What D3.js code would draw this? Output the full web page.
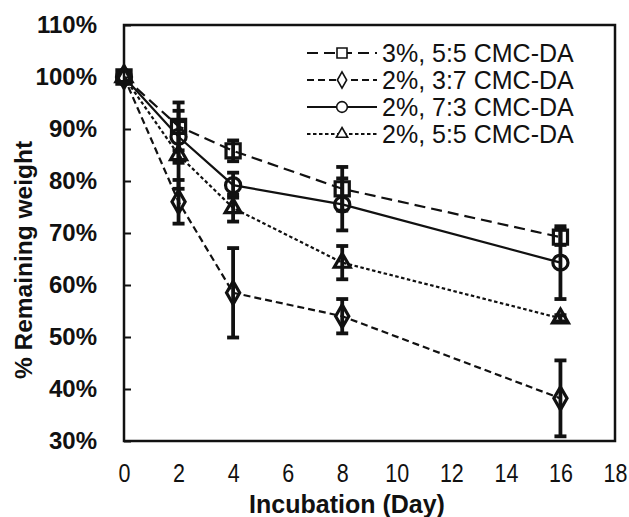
<!DOCTYPE html>
<html>
<head>
<meta charset="utf-8">
<script src="https://cdn.jsdelivr.net/npm/d3@7"></script>
<style>
  body { margin: 0; background: #fff; }
  text { font-family: Arial, "Liberation Sans", sans-serif; fill: #111; }
</style>
</head>
<body>
<svg id="drawing_region"></svg>
<script>
// incubation days
const days = [0, 2, 4, 8, 16];

const names = ['3%, 5:5 CMC-DA', '2%, 3:7 CMC-DA', '2%, 7:3 CMC-DA', '2%, 5:5 CMC-DA'];

// % remaining weight
const w_3_55 = [100, 90.5, 85.8, 78.5, 69.2];
const w_2_37 = [100, 76.0, 58.5, 54.0, 38.2];
const w_2_73 = [100, 88.5, 79.2, 75.5, 64.3];
const w_2_55 = [100, 85.0, 74.8, 64.3, 53.6];

// error bars (+/-)
const e_3_55 = [0, 4.6, 2.0, 4.2, 1.5];
const e_2_37 = [0, 4.2, 8.6, 3.3, 7.3];
const e_2_73 = [0, 5.0, 2.4, 5.0, 7.0];
const e_2_55 = [0, 6.5, 2.6, 3.2, 0.6];

const yticks = [30, 40, 50, 60, 70, 80, 90, 100, 110];
const xticks = [0, 2, 4, 6, 8, 10, 12, 14, 16, 18];

const config = {
    width: 629,
    height: 517,
    margin: {top: 25, right: 14, bottom: 76, left: 124}
};

const styles = [
    {dash: '11,6', symbol: d3.symbolSquare, size: 200},
    {dash: '7,4', symbol: d3.symbolDiamond, size: 150},
    {dash: null, symbol: d3.symbolCircle, size: 180},
    {dash: '3.5,2.5', symbol: d3.symbolTriangle, size: 110}
];

const values = [w_3_55, w_2_37, w_2_73, w_2_55];
const errors = [e_3_55, e_2_37, e_2_73, e_2_55];

const series = names.map((name, i) => ({
    name: name,
    style: styles[i],
    points: days.map((d, j) => ({x: d, y: values[i][j], e: errors[i][j]}))
}));

const svg = d3.select('#drawing_region')
    .attr('width', config.width)
    .attr('height', config.height);

const inner_width = config.width - config.margin.left - config.margin.right;
const inner_height = config.height - config.margin.top - config.margin.bottom;

const chart = svg.append('g')
    .attr('transform', `translate(${config.margin.left}, ${config.margin.top})`);

const xscale = d3.scaleLinear().domain([0, 18]).range([0, inner_width]);
const yscale = d3.scaleLinear().domain([30, 110]).range([inner_height, 0]);

// y axis: inward ticks, bold labels
const yaxis = d3.axisRight(yscale)
    .tickValues(yticks)
    .tickSize(7)
    .tickSizeOuter(0)
    .tickFormat(d => d + '%');

const yaxis_group = chart.append('g').call(yaxis);
yaxis_group.select('.domain').remove();
yaxis_group.selectAll('.tick line').attr('stroke', '#111').attr('stroke-width', 2);
yaxis_group.selectAll('.tick text')
    .attr('x', -27)
    .attr('text-anchor', 'end')
    .attr('font-size', 24)
    .attr('font-weight', 'bold')
    .attr('font-family', 'Arial, "Liberation Sans", sans-serif')
    .attr('fill', '#111');

const xaxis = d3.axisBottom(xscale)
    .tickValues(xticks)
    .tickSize(0)
    .tickPadding(23)
    .tickFormat(d3.format('d'));

const xaxis_group = chart.append('g')
    .attr('transform', `translate(0, ${inner_height})`)
    .call(xaxis);
xaxis_group.select('.domain').remove();
xaxis_group.selectAll('.tick text')
    .attr('font-size', 25)
    .attr('transform', 'scale(0.86, 1)')
    .attr('font-family', 'Arial, "Liberation Sans", sans-serif')
    .attr('fill', '#111');

// frame
chart.append('rect')
    .attr('width', inner_width)
    .attr('height', inner_height)
    .attr('fill', 'none')
    .attr('stroke', '#111')
    .attr('stroke-width', 2.5);

const line = d3.line()
    .x(d => xscale(d.x))
    .y(d => yscale(d.y));

series.forEach(s => {
    chart.append('path')
        .attr('d', line(s.points))
        .attr('fill', 'none')
        .attr('stroke', '#111')
        .attr('stroke-width', 2.2)
        .attr('stroke-dasharray', s.style.dash);
});

series.forEach(s => {
    chart.selectAll(null)
        .data(s.points)
        .join('path')
        .attr('transform', d => `translate(${xscale(d.x)}, ${yscale(d.y)})`)
        .attr('d', d3.symbol().type(s.style.symbol).size(s.style.size))
        .attr('fill', 'none')
        .attr('stroke', '#111')
        .attr('stroke-width', 3.2);
});

// error bars
series.forEach(s => {
    const eb = chart.selectAll(null)
        .data(s.points.filter(d => d.e > 0))
        .join('g')
        .attr('stroke', '#111')
        .attr('stroke-width', 3.8);
    eb.append('line')
        .attr('x1', d => xscale(d.x)).attr('x2', d => xscale(d.x))
        .attr('y1', d => yscale(d.y - d.e)).attr('y2', d => yscale(d.y + d.e));
    eb.append('line')
        .attr('x1', d => xscale(d.x) - 6).attr('x2', d => xscale(d.x) + 6)
        .attr('y1', d => yscale(d.y + d.e)).attr('y2', d => yscale(d.y + d.e));
    eb.append('line')
        .attr('x1', d => xscale(d.x) - 6).attr('x2', d => xscale(d.x) + 6)
        .attr('y1', d => yscale(d.y - d.e)).attr('y2', d => yscale(d.y - d.e));
});

// axis titles
svg.append('text')
    .attr('x', 347)
    .attr('y', 513)
    .attr('text-anchor', 'middle')
    .attr('font-size', 25)
    .attr('font-weight', 'bold')
    .text('Incubation (Day)');

svg.append('text')
    .attr('transform', `translate(32, 260) rotate(-90)`)
    .attr('text-anchor', 'middle')
    .attr('font-size', 24.5)
    .attr('font-weight', 'bold')
    .text('% Remaining weight');

// legend
const legend = svg.append('g')
    .attr('transform', 'translate(307, 53)');

const entry = legend.selectAll('g')
    .data(series)
    .join('g')
    .attr('transform', (d, i) => `translate(0, ${i * 27})`);

entry.append('line')
    .attr('x1', 0).attr('x2', 70)
    .attr('stroke', '#111')
    .attr('stroke-width', 2)
    .attr('stroke-dasharray', d => d.style.dash);

entry.append('path')
    .attr('transform', 'translate(35, 0)')
    .attr('d', d => d3.symbol().type(d.style.symbol).size(d.style.size * 0.5)())
    .attr('fill', '#fff')
    .attr('stroke', '#111')
    .attr('stroke-width', 1.6);

entry.append('text')
    .attr('x', 75)
    .attr('dy', '0.36em')
    .attr('font-size', 25)
    .text(d => d.name);
</script>
</body>
</html>
